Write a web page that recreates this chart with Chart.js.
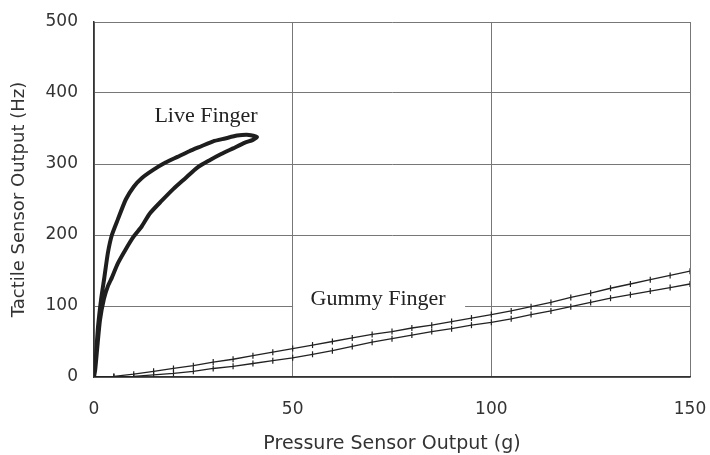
<!DOCTYPE html>
<html>
<head>
<meta charset="utf-8">
<script src="https://cdn.jsdelivr.net/npm/chart.js@4"></script>
<style>
  html, body { margin: 0; padding: 0; background: #fff; }
  #wrap { width: 710px; height: 455px; }
</style>
</head>
<body>
<div id="wrap"><canvas id="chart"></canvas></div>
<script>
// live finger: loading curve up, then back down along the unloading curve
let liveX = [0, 0.5, 1, 1.8, 2.6, 3.5, 4.5, 6, 8, 10, 12, 15, 18, 21, 24, 27, 30, 33, 36, 39, 41,
             40, 38, 35, 32, 29, 26, 23, 20, 17, 14, 12, 10, 8, 6, 4.5, 3.5, 2.5, 1.5, 0.8, 0.3, 0];
let liveY = [0, 30, 70, 110, 140, 175, 200, 222, 250, 268, 280, 292, 302, 310, 318, 325, 332, 336, 340, 341, 338,
             334, 330, 322, 314, 305, 295, 280, 265, 248, 230, 212, 198, 180, 160, 140, 128, 110, 80, 40, 10, 0];

// gummy finger, two passes
let gummyX = [0, 5, 10, 15, 20, 25, 30, 35, 40, 45, 50, 55, 60, 65, 70, 75, 80, 85, 90, 95, 100,
              105, 110, 115, 120, 125, 130, 135, 140, 145, 150];
let gummyUp = [0, 1, 4, 8, 12, 16, 21, 25, 30, 35, 40, 45, 50, 55, 60, 64, 69, 73, 78, 83, 88,
               93, 99, 105, 112, 118, 125, 131, 137, 143, 149];
let gummyLow = [0, 0, 1, 3, 5, 8, 12, 15, 19, 23, 27, 32, 37, 43, 49, 54, 59, 64, 68, 73, 77,
                82, 88, 93, 99, 105, 111, 116, 121, 126, 131];

let xTicks = [0, 50, 100, 150];
let yTicks = [0, 100, 200, 300, 400, 500];

function pares(xs, ys) {
    return xs.map(function (x, i) { return { x: x, y: ys[i] }; });
}

// text labels drawn inside the plot
let etiquetas = {
    id: 'etiquetas',
    afterDatasetsDraw(chart) {
        let ctx = chart.ctx;
        let sx = chart.scales.x, sy = chart.scales.y;
        ctx.save();
        ctx.textAlign = 'center';
        ctx.textBaseline = 'middle';
        ctx.fillStyle = '#222';
        ctx.font = '22px "Liberation Serif"';
        ctx.fillText('Live Finger', sx.getPixelForValue(28.2), sy.getPixelForValue(367));

        // white box hides the grid line behind the text
        let gx = sx.getPixelForValue(71.5), gy = sy.getPixelForValue(110);
        ctx.fillStyle = '#fff';
        ctx.fillRect(gx - 85, gy - 12, 172, 24);
        ctx.fillStyle = '#222';
        ctx.fillText('Gummy Finger', gx, gy);
        ctx.restore();
    }
};

let ctx = document.getElementById('chart');
new Chart(ctx, {
    type: 'scatter',
    data: {
        datasets: [
            {
                label: 'Live Finger',
                data: pares(liveX, liveY),
                showLine: true,
                borderColor: '#1e1e1e',
                borderWidth: 4,
                pointRadius: 0,
                tension: 0.2,
            },
            {
                label: 'Gummy up',
                data: pares(gummyX, gummyUp),
                showLine: true,
                borderColor: '#222',
                borderWidth: 1.3,
                pointStyle: 'line',
                rotation: 90,
                pointRadius: 3,
                pointBorderWidth: 1.2,
                pointBorderColor: '#222',
            },
            {
                label: 'Gummy low',
                data: pares(gummyX, gummyLow),
                showLine: true,
                borderColor: '#222',
                borderWidth: 1.3,
                pointStyle: 'line',
                rotation: 90,
                pointRadius: 3,
                pointBorderWidth: 1.2,
                pointBorderColor: '#222',
            },
        ]
    },
    options: {
        responsive: true,
        maintainAspectRatio: false,
        animation: false,
        layout: { autoPadding: false, padding: { top: 22, right: 20, left: 0, bottom: 0 } },
        plugins: {
            legend: { display: false },
            tooltip: { enabled: false },
        },
        scales: {
            x: {
                type: 'linear',
                min: 0,
                max: 150,
                afterBuildTicks: function (s) { s.ticks = xTicks.map(function (v) { return { value: v }; }); },
                afterFit: function (s) { s.height = 78; s.paddingRight = 0; s.paddingLeft = 0; },
                grid: { color: '#777', lineWidth: 1, drawTicks: false },
                border: { color: '#333', width: 1.5 },
                ticks: { padding: 22, color: '#333', font: { family: 'DejaVu Sans', size: 17 } },
                title: {
                    display: true,
                    text: 'Pressure Sensor Output (g)',
                    color: '#333',
                    font: { family: 'DejaVu Sans', size: 19 },
                    padding: { top: 0, bottom: 0 },
                },
            },
            y: {
                type: 'linear',
                min: 0,
                max: 500,
                afterBuildTicks: function (s) { s.ticks = yTicks.map(function (v) { return { value: v }; }); },
                afterFit: function (s) { s.width = 94; s.paddingTop = 0; s.paddingBottom = 0; },
                grid: { color: '#777', lineWidth: 1, drawTicks: false },
                border: { color: '#333', width: 1.5 },
                ticks: { padding: 16, color: '#333', font: { family: 'DejaVu Sans', size: 17 } },
                title: {
                    display: true,
                    text: 'Tactile Sensor Output (Hz)',
                    color: '#333',
                    font: { family: 'DejaVu Sans', size: 18 },
                    padding: { top: 9, bottom: 0 },
                },
            },
        },
    },
    plugins: [etiquetas],
});
</script>
</body>
</html>
